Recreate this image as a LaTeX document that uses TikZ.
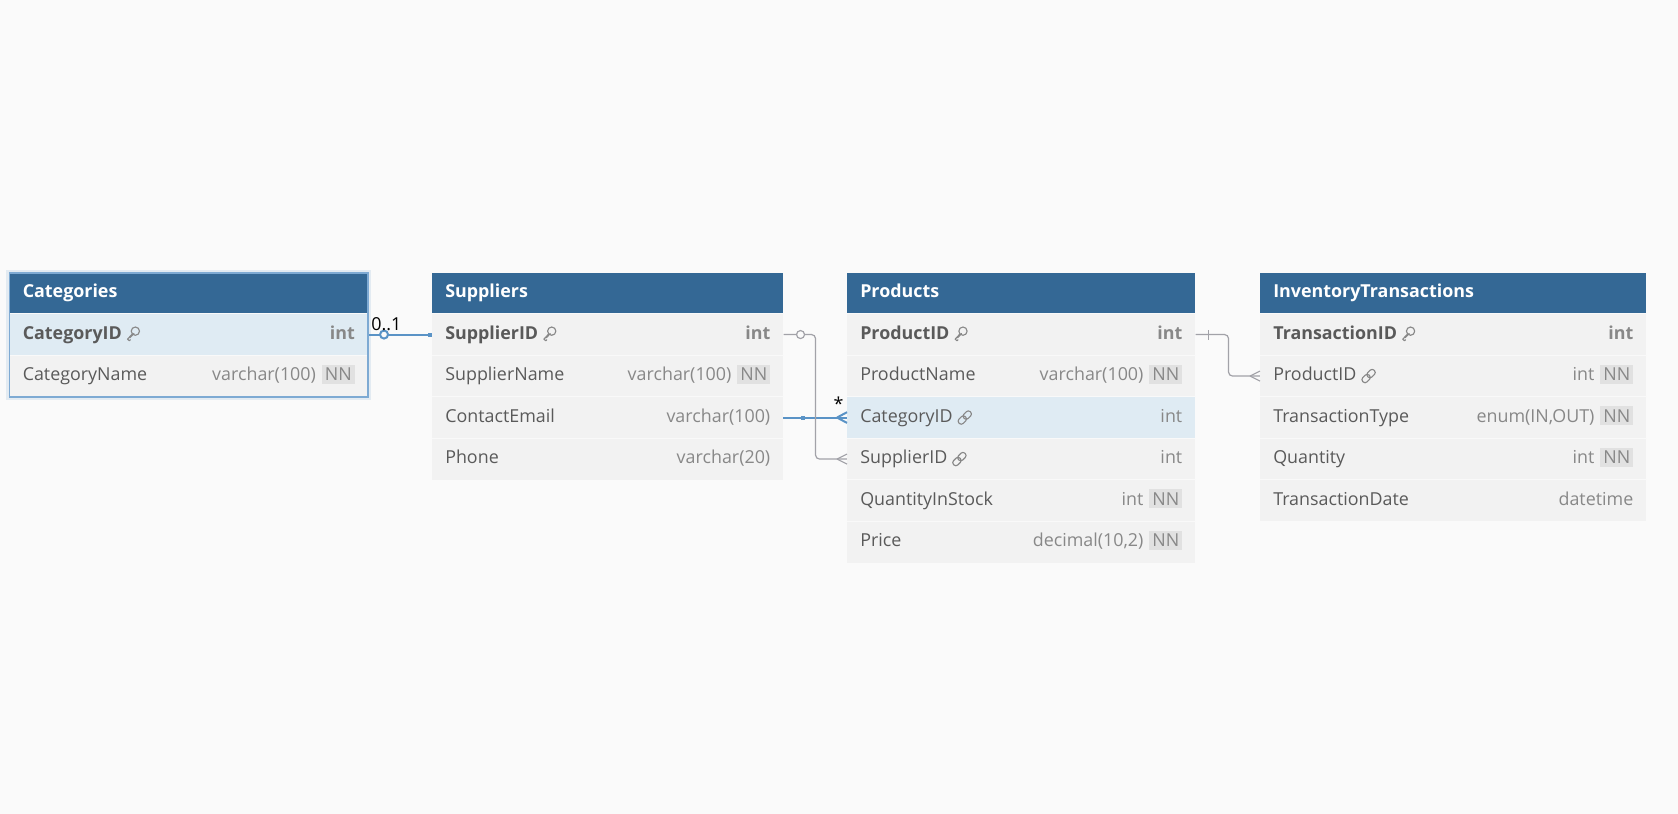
\documentclass[tikz,border=0pt]{standalone}
\usepackage{fontspec}
\setmainfont{Open Sans}
\usetikzlibrary{positioning,calc}

\definecolor{headblue}{HTML}{346895}
\definecolor{rowgray}{HTML}{F2F2F2}
\definecolor{rowsel}{HTML}{DFEBF3}
\definecolor{pagebg}{HTML}{FAFAFA}
\definecolor{fldtext}{HTML}{5A5A5A}
\definecolor{typetext}{HTML}{888888}
\definecolor{nngray}{HTML}{E1E1E1}
\definecolor{relblue}{HTML}{5A93C6}
\definecolor{relgray}{HTML}{A2A2A8}
\definecolor{selborder}{HTML}{7EAAD3}

\newcommand{\erdfont}{\fontsize{13.4pt}{16pt}\selectfont}
\newcommand{\nnbadge}{\hspace{4.5pt}{\setlength{\fboxsep}{2.2pt}\colorbox{nngray}{NN}}}

\pgfdeclarelayer{bg}
\pgfdeclarelayer{edges}
\pgfsetlayers{bg,edges,main}

\tikzset{
  head/.style={rectangle, fill=headblue, text=white, font=\erdfont\bfseries, anchor=north west,
    inner xsep=9.75pt, inner ysep=0pt, minimum height=30pt, text height=9.6pt, text depth=2.8pt, align=left},
  row/.style={rectangle, anchor=north west, inner sep=0pt, minimum height=31.125pt},
  fld/.style={anchor=west, inner sep=0pt, text=fldtext, font=\erdfont, text height=9.6pt, text depth=2.8pt},
  typ/.style={anchor=east, inner sep=0pt, text=typetext, font=\erdfont, text height=9.6pt, text depth=2.8pt},
  sepline/.style={draw=white!55!rowgray, line width=0.75pt},
  card/.style={inner sep=0pt, text=black, font=\erdfont},
  icon/.style={draw=typetext, line width=0.85pt, line cap=round, line join=round},
  relb/.style={draw=relblue, line width=1.5pt},
  relg/.style={draw=relgray, line width=0.9pt},
  pkicon/.pic={
    \draw[icon] (8.6,-3.4) circle (3.1pt);
    \draw[icon] (5.6,-0.6) -- (0.8,4.6) -- (2.6,6.2) -- (3.6,5.2) (3.2,3.2) -- (7.2,-1);
  },
  fkicon/.pic={
    \begin{scope}[shift={(6.5,0)}, rotate=45]
      \draw[icon, rounded corners=2pt] (-8,-3) rectangle (1,3);
      \draw[icon, rounded corners=2pt] (-1,-3) rectangle (8,3);
    \end{scope}
  }
}

\begin{document}
\begin{tikzpicture}[x=0.75pt, y=-0.75pt]
\begin{pgfonlayer}{bg}
\fill[pagebg] (0,0) rectangle (1678,814);
\end{pgfonlayer}
\useasboundingbox (0,0) rectangle (1678,814);

% tables
\node[head, text width=249pt, name=cat] at (9.5,273) {Categories};
\foreach \r/\f/\t/\c [count=\i] in {id/{\bfseries CategoryID}/{\bfseries int}/rowsel,
    name/CategoryName/{varchar(100)\nnbadge}/rowgray}{
  \node[row, fill=\c, minimum width=268.5pt, name=cat-\r] at ($(cat.south west)+(0,{(\i-1)*41.5})$) {};
  \draw[sepline] (cat-\r.north west) -- (cat-\r.north east);
  \node[fld, name=cat-\r-f] at ([xshift=9.75pt]cat-\r.west) {\f};
  \node[typ] at ([xshift=-9.75pt]cat-\r.east) {\t};
}

\node[head, text width=243.75pt, name=sup] at (432,273) {Suppliers};
\foreach \r/\f/\t/\c [count=\i] in {id/{\bfseries SupplierID}/{\bfseries int}/rowgray,
    name/SupplierName/{varchar(100)\nnbadge}/rowgray, mail/ContactEmail/varchar(100)/rowgray,
    phone/Phone/varchar(20)/rowgray}{
  \node[row, fill=\c, minimum width=263.25pt, name=sup-\r] at ($(sup.south west)+(0,{(\i-1)*41.5})$) {};
  \draw[sepline] (sup-\r.north west) -- (sup-\r.north east);
  \node[fld, name=sup-\r-f] at ([xshift=9.75pt]sup-\r.west) {\f};
  \node[typ] at ([xshift=-9.75pt]sup-\r.east) {\t};
}

\node[head, text width=241.5pt, name=prod] at (847,273) {Products};
\foreach \r/\f/\t/\c [count=\i] in {id/{\bfseries ProductID}/{\bfseries int}/rowgray,
    name/ProductName/{varchar(100)\nnbadge}/rowgray, cat/CategoryID/int/rowsel,
    sup/SupplierID/int/rowgray, stock/QuantityInStock/{int\nnbadge}/rowgray,
    price/Price/{decimal(10,2)\nnbadge}/rowgray}{
  \node[row, fill=\c, minimum width=261pt, name=prod-\r] at ($(prod.south west)+(0,{(\i-1)*41.5})$) {};
  \draw[sepline] (prod-\r.north west) -- (prod-\r.north east);
  \node[fld, name=prod-\r-f] at ([xshift=9.75pt]prod-\r.west) {\f};
  \node[typ] at ([xshift=-9.75pt]prod-\r.east) {\t};
}

\node[head, text width=270pt, name=inv] at (1260,273) {InventoryTransactions};
\foreach \r/\f/\t/\c [count=\i] in {id/{\bfseries TransactionID}/{\bfseries int}/rowgray,
    prod/ProductID/{int\nnbadge}/rowgray, type/TransactionType/{enum(IN,OUT)\nnbadge}/rowgray,
    qty/Quantity/{int\nnbadge}/rowgray, date/TransactionDate/datetime/rowgray}{
  \node[row, fill=\c, minimum width=289.5pt, name=inv-\r] at ($(inv.south west)+(0,{(\i-1)*41.5})$) {};
  \draw[sepline] (inv-\r.north west) -- (inv-\r.north east);
  \node[fld, name=inv-\r-f] at ([xshift=9.75pt]inv-\r.west) {\f};
  \node[typ] at ([xshift=-9.75pt]inv-\r.east) {\t};
}

% key and link icons
\pic at ([xshift=3.5pt]cat-id-f.east) {pkicon};
\pic at ([xshift=3.5pt]sup-id-f.east) {pkicon};
\pic at ([xshift=3.5pt]prod-id-f.east) {pkicon};
\pic at ([xshift=3.5pt]inv-id-f.east) {pkicon};
\pic at ([xshift=4pt]prod-cat-f.east) {fkicon};
\pic at ([xshift=4pt]prod-sup-f.east) {fkicon};
\pic at ([xshift=4pt]inv-prod-f.east) {fkicon};

% selected table
\begin{pgfonlayer}{edges}
\draw[selborder, line width=5pt, opacity=.18] (cat.north west) rectangle (cat-name.south east);
\end{pgfonlayer}
\draw[selborder, line width=1.1pt] (cat.north west) rectangle (cat-name.south east);

% connections
\begin{pgfonlayer}{edges}
\draw[relb] (cat-id.east) -- (sup-id.center) -- (sup-mail.center) -- (prod-cat.west);
\draw[relg, rounded corners=3pt] (sup-id.east) -- ([xshift=24pt]sup-id.east) |- (prod-sup.west);
\draw[relg, rounded corners=3pt] (prod-id.east) -- ([xshift=24.75pt]prod-id.east) |- (inv-prod.west);
\end{pgfonlayer}

% ends
\draw[relb, fill=pagebg] ([xshift=12pt]cat-id.east) circle (3pt);
\fill[relblue] ([xshift=-3pt,yshift=-1.5pt]sup-id.west) rectangle ([yshift=1.5pt]sup-id.west);
\fill[relblue] ([xshift=12.75pt,yshift=-1.5pt]sup-mail.east) rectangle ([xshift=15.75pt,yshift=1.5pt]sup-mail.east);
\draw[relb] ([xshift=-7.5pt]prod-cat.west) -- ([yshift=4pt]prod-cat.west)
  ([xshift=-7.5pt]prod-cat.west) -- ([yshift=-4pt]prod-cat.west);
\draw[relg, fill=pagebg] ([xshift=12.75pt]sup-id.east) circle (3pt);
\draw[relg] ([xshift=-7.5pt]prod-sup.west) -- ([yshift=3.75pt]prod-sup.west)
  ([xshift=-7.5pt]prod-sup.west) -- ([yshift=-3.75pt]prod-sup.west);
\draw[relg] ([xshift=9.75pt,yshift=-3.75pt]prod-id.east) -- ([xshift=9.75pt,yshift=3.75pt]prod-id.east);
\draw[relg] ([xshift=-7.5pt]inv-prod.west) -- ([yshift=3.75pt]inv-prod.west)
  ([xshift=-7.5pt]inv-prod.west) -- ([yshift=-3.75pt]inv-prod.west);

% cardinality labels
\node[card, anchor=south west, name=card-one] at ([xshift=2.25pt,yshift=2.5pt]cat-id.east) {0..1};
\node[card, anchor=south east, name=card-many] at ([xshift=-2.5pt,yshift=5pt]prod-cat.west) {*};

\end{tikzpicture}
\end{document}
